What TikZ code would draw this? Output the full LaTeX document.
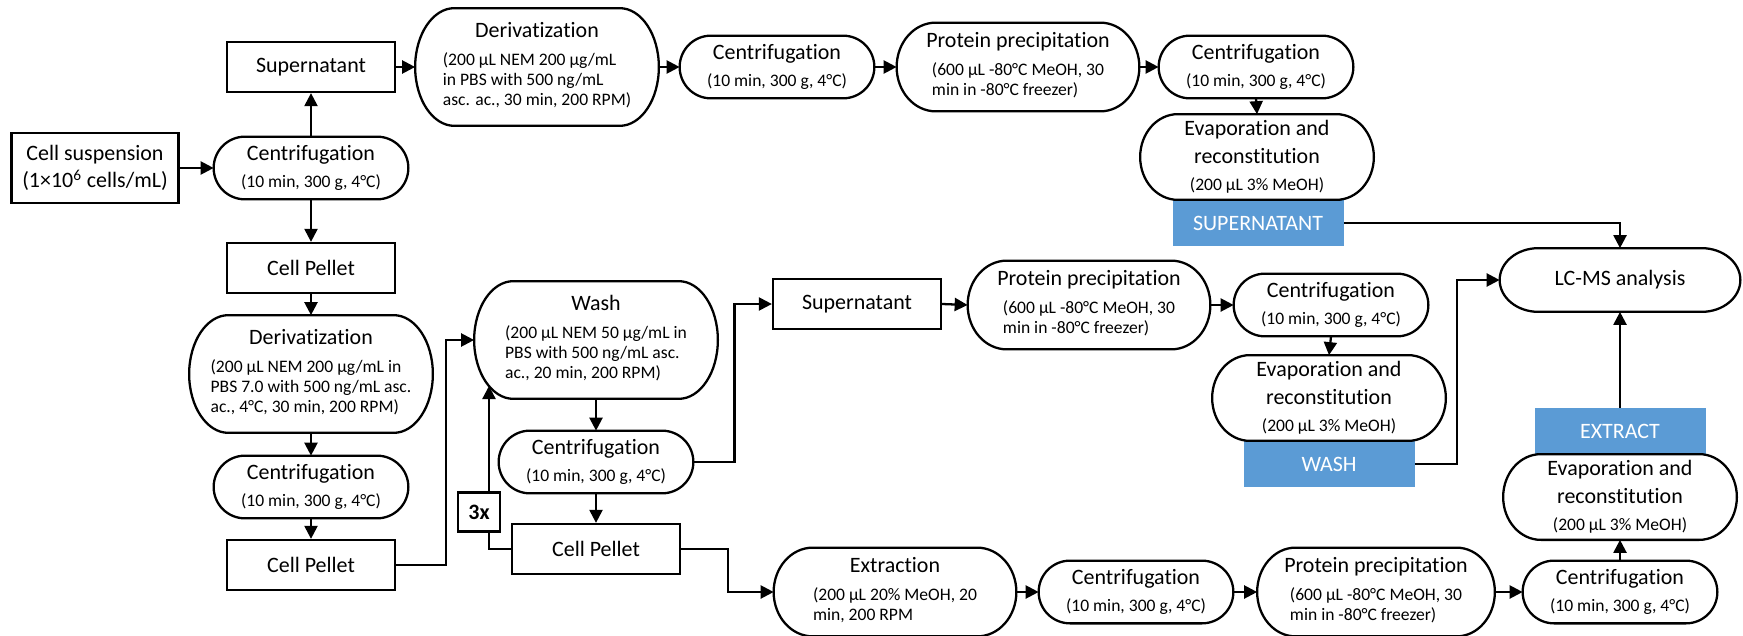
\documentclass[tikz,border=0pt]{standalone}
\usepackage{fontspec}
\setmainfont{Carlito}[Ligatures=NoCommon]
\usepackage{tikz}
\usetikzlibrary{arrows.meta, calc}
\definecolor{TagBlue}{HTML}{5B9BD5}
\newcommand{\cond}[1]{{\fontsize{10}{11.4}\selectfont\begin{tabular}[t]{@{}l@{}}#1\end{tabular}}}
\newcommand{\condc}[1]{{\fontsize{10}{11.4}\selectfont #1}}

\begin{document}
\begin{tikzpicture}[x=0.2mm, y=-0.2mm,
    base/.style={inner sep=0pt, align=center, font=\fontsize{12.5}{15.5}\selectfont},
    box/.style={base, draw, line width=1.3pt, minimum width=33.6mm, minimum height=10mm},
    cent/.style={base, minimum width=38.8mm, minimum height=12.4mm},
    tall/.style={base, minimum width=48.6mm, minimum height=23.4mm},
    prec/.style={base, minimum width=48.4mm, minimum height=17.6mm},
    evap/.style={base, minimum width=46.6mm, minimum height=17mm},
    tag/.style={base, fill=TagBlue, text=white, minimum width=34.2mm, minimum height=9.2mm},
    reps/.style={base, draw, fill=white, line width=1.3pt, minimum width=8.4mm, minimum height=7.8mm, font=\fontsize{12.5}{15}\selectfont\bfseries},
    flow/.style={line width=1.3pt, -{Triangle[length=2.6mm, width=2.6mm]}}
]
\useasboundingbox (0,0) rectangle (1743,636);

% Left column
\node[box, minimum width=33.4mm, minimum height=14mm] (susp) at (95,168) {Cell suspension\\(1×10\textsuperscript{6} cells/mL)};
\node[cent] (cen1) at (311,168) {Centrifugation\\\condc{(10 min, 300 g, 4°C)}};
\node[box] (sup1) at (311,67) {Supernatant};
\node[box] (pel1) at (311,268) {Cell Pellet};
\node[tall] (der2) at (311,374) {Derivatization\\\cond{(200 µL NEM 200 µg/mL in\\PBS 7.0 with 500 ng/mL asc.\\ac., 4°C, 30 min, 200 RPM)}};
\node[cent] (cen4) at (311,487) {Centrifugation\\\condc{(10 min, 300 g, 4°C)}};
\node[box] (pel2) at (311,565) {Cell Pellet};

% Top row: supernatant
\node[tall] (der1) at (537,67) {Derivatization\\\cond{(200 µL NEM 200 µg/mL\\in PBS with 500 ng/mL\\asc. ac., 30 min, 200 RPM)}};
\node[cent] (cen2) at (777,67) {Centrifugation\\\condc{(10 min, 300 g, 4°C)}};
\node[prec] (pp1) at (1018,67) {Protein precipitation\\\cond{(600 µL -80°C MeOH, 30\\min in -80°C freezer)}};
\node[cent] (cen3) at (1256,67) {Centrifugation\\\condc{(10 min, 300 g, 4°C)}};
\node[evap] (ev1) at (1257,157) {Evaporation and\\reconstitution\\\condc{(200 µL 3\% MeOH)}};
\node[tag] (lbl1) at (1258,223) {SUPERNATANT};

% Middle row: wash
\node[tall] (wash) at (596,340) {Wash\\\cond{(200 µL NEM 50 µg/mL in\\PBS with 500 ng/mL asc.\\ac., 20 min, 200 RPM)}};
\node[cent] (cen5) at (596,462) {Centrifugation\\\condc{(10 min, 300 g, 4°C)}};
\node[box] (pel3) at (596,549) {Cell Pellet};
\node[box] (sup2) at (857,304) {Supernatant};
\node[prec] (pp2) at (1089,305) {Protein precipitation\\\cond{(600 µL -80°C MeOH, 30\\min in -80°C freezer)}};
\node[cent] (cen6) at (1331,305) {Centrifugation\\\condc{(10 min, 300 g, 4°C)}};
\node[evap] (ev2) at (1329,398) {Evaporation and\\reconstitution\\\condc{(200 µL 3\% MeOH)}};
\node[tag] (lbl2) at (1329,464) {WASH};

% Bottom row: extract
\node[prec] (ext) at (895,592) {Extraction\\\cond{(200 µL 20\% MeOH, 20\\min, 200 RPM}};
\node[cent] (cen8) at (1136,592) {Centrifugation\\\condc{(10 min, 300 g, 4°C)}};
\node[prec, minimum width=47.4mm] (pp3) at (1376,592) {Protein precipitation\\\cond{(600 µL -80°C MeOH, 30\\min in -80°C freezer)}};
\node[cent] (cen7) at (1620,592) {Centrifugation\\\condc{(10 min, 300 g, 4°C)}};
\node[evap] (ev3) at (1620,497) {Evaporation and\\reconstitution\\\condc{(200 µL 3\% MeOH)}};
\node[tag] (lbl3) at (1620,431) {EXTRACT};
\node[cent, minimum width=48mm, minimum height=12.6mm] (lcms) at (1620,280) {LC-MS analysis};

% Outlines of the rounded process shapes
\foreach \shp in {cen1, der2, cen4, der1, cen2, pp1, cen3, ev1, wash, cen5, pp2, cen6, ev2, ext, cen8, pp3, cen7, ev3, lcms}
  \draw[line width=1.3pt] let \p1=(\shp.south west), \p2=(\shp.north east),
      \n1={0.161*(\x2-\x1)}, \n2={(\y2-\y1)/2} in
    (\x1+\n1,\y2) -- (\x2-\n1,\y2) arc[start angle=90, end angle=-90, x radius=\n1, y radius=\n2]
    -- (\x1+\n1,\y1) arc[start angle=270, end angle=90, x radius=\n1, y radius=\n2] -- cycle;

% Connectors
\draw[flow] (susp.east) -- (cen1.west);
\draw[flow] (cen1.north) -- (sup1.south);
\draw[flow] (cen1.south) -- (pel1.north);
\draw[flow] (pel1.south) -- (der2.north);
\draw[flow] (der2.south) -- (cen4.north);
\draw[flow] (cen4.south) -- (pel2.north);
\draw[flow] (sup1.east) -- (der1.west);
\draw[flow] (der1.east) -- (cen2.west);
\draw[flow] (cen2.east) -- (pp1.west);
\draw[flow] (pp1.east) -- (cen3.west);
\draw[flow] (cen3.south) -- (ev1.north);
\draw[flow] (lbl1.east) -| (lcms.north);
\draw[flow] (pel2.east) -- ++(50,0) |- (wash.west);
\draw[flow] (wash.south) -- (cen5.north);
\draw[flow] (cen5.south) -- (pel3.north);
\coordinate (washin) at (489,386);
\draw[flow] (pel3.west) -| (washin);
\draw[flow] (cen5.east) -- ++(41,0) |- (sup2.west);
\draw[flow] (sup2.east) -- (pp2.west);
\draw[flow] (pp2.east) -- (cen6.west);
\draw[flow] (cen6.south) -- (ev2.north);
\draw[flow] (lbl2.east) -- ++(42,0) |- (lcms.west);
\draw[flow] (pel3.east) -- ++(47,0) |- (ext.west);
\draw[flow] (ext.east) -- (cen8.west);
\draw[flow] (cen8.east) -- (pp3.west);
\draw[flow] (pp3.east) -- (cen7.west);
\draw[flow] (cen7.north) -- (ev3.south);
\draw[flow] (lbl3.north) -- (lcms.south);

% Repeat marker on the wash loop
\node[reps] (rep) at (479,512) {3x};
\end{tikzpicture}
\end{document}
